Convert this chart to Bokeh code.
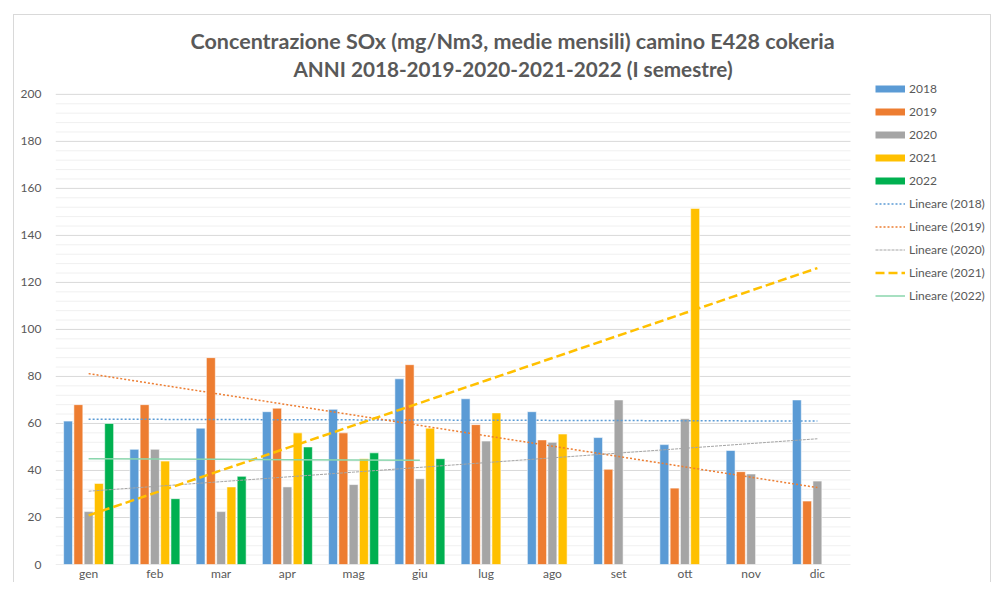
import numpy as np
from bokeh.plotting import figure
from bokeh.models import (Range1d, Legend, LegendItem, Title,
                          ColumnDataSource, FixedTicker)
from bokeh.transform import dodge
from bokeh.embed import file_html
from bokeh.resources import INLINE

months = ["gen", "feb", "mar", "apr", "mag", "giu", "lug", "ago", "set", "ott", "nov", "dic"]
years = ["2018", "2019", "2020", "2021", "2022"]
v2018 = [61, 49, 58, 65, 66, 79, 70.5, 65, 54, 51, 48.5, 70]
v2019 = [68, 68, 88, 66.5, 56, 85, 59.5, 53, 40.5, 32.5, 39.5, 27]
v2020 = [22.5, 49, 22.5, 33, 34, 36.5, 52.5, 52, 70, 62, 38.5, 35.5]
v2021 = [34.5, 44, 33, 56, 45, 58, 64.5, 55.5, None, 151.5, None, None]
v2022 = [60, 28, 37.5, 50, 47.5, 45, None, None, None, None, None, None]
series = [v2018, v2019, v2020, v2021, v2022]
y_ticks = list(range(0, 201, 20))
y_minor = list(range(0, 201, 4))

title1 = "Concentrazione SOx (mg/Nm3, medie mensili) camino E428 cokeria"
title2 = "ANNI 2018-2019-2020-2021-2022 (I semestre)"

colors = ["#5B9BD5", "#ED7D31", "#A5A5A5", "#FFC000", "#00B050"]
trend_styles = [
    dict(line_color="#5B9BD5", line_width=1.5, line_dash="2 2"),
    dict(line_color="#ED7D31", line_width=1.5, line_dash="2 2"),
    dict(line_color="#A5A5A5", line_width=1.0, line_dash="3 1"),
    dict(line_color="#FFC000", line_width=2.5, line_dash="9 4"),
    dict(line_color="#8AD6AD", line_width=1.5),
]
trend_end = [12, 12, 12, 12, 6]
FONT = "Lato"
TXT = "#595959"

n_cat = len(months)
x_pos = np.arange(1, n_cat + 1)

p = figure(x_range=Range1d(0.5, 14.613), y_range=Range1d(0, 205.9),
           width=978, height=568, output_backend="svg", toolbar_location=None,
           min_border_left=41, min_border_right=2, min_border_top=65,
           min_border_bottom=16)
p.styles = {"margin-left": "13px", "margin-top": "14px",
            "border-left": "1px solid #d9d9d9", "border-top": "1px solid #d9d9d9",
            "border-right": "1px solid #d9d9d9"}

p.title.text = title1
p.title.align = "left"
p.title.offset = 135
p.title.standoff = 1
p.title.text_font = FONT
p.title.text_font_size = "21.5px"
p.title.text_font_style = "bold"
p.title.text_color = TXT
p.add_layout(Title(text=title2, align="left", offset=238, standoff=0, text_font=FONT,
                   text_font_size="20.7px", text_font_style="bold", text_color=TXT),
             "above")

# grid lines limited to the category area
minor_only = [v for v in y_minor if v not in y_ticks]
p.segment(x0=[0.5] * len(minor_only), x1=[n_cat + 0.5] * len(minor_only),
          y0=minor_only, y1=minor_only, line_color="#f0f0f0", line_width=1)
p.segment(x0=[0.5] * len(y_ticks), x1=[n_cat + 0.5] * len(y_ticks),
          y0=y_ticks, y1=y_ticks, line_color="#d9d9d9", line_width=1)

for i, (vals, c) in enumerate(zip(series, colors)):
    xs = [x for x, v in zip(x_pos, vals) if v is not None]
    ys = [v for v in vals if v is not None]
    src = ColumnDataSource(dict(x=xs, v=ys))
    p.vbar(x=dodge("x", (i - 2) * 0.155), top="v", width=0.135,
           source=src, fill_color=c, line_color="white", line_width=0.8, line_alpha=0.7)

trend_r = []
for i, vals in enumerate(series):
    mask = np.array([v is not None for v in vals])
    yv = np.array([v if v is not None else np.nan for v in vals], dtype=float)
    k, b = np.polyfit(x_pos[mask], yv[mask], 1)
    n = trend_end[i]
    trend_r.append(p.line(x=list(x_pos[:n]), y=list(k * x_pos[:n] + b), **trend_styles[i]))

items = []
for y, c in zip(years, colors):
    r = p.line(x=[-5, -4], y=[-5, -5], line_color=c, line_width=7)
    items.append(LegendItem(label=y, renderers=[r]))
for y, r in zip(years, trend_r):
    items.append(LegendItem(label="Lineare (%s)" % y, renderers=[r]))

legend = Legend(items=items, location=(820, 257), glyph_width=30, glyph_height=23,
                label_height=23, spacing=0, label_standoff=4, padding=0, margin=0,
                border_line_alpha=0, background_fill_alpha=0,
                label_text_font=FONT, label_text_font_size="12px", label_text_color=TXT)
p.add_layout(legend)

p.xgrid.visible = False
p.ygrid.visible = False
p.outline_line_color = None
p.xaxis.ticker = FixedTicker(ticks=list(x_pos))
p.xaxis.major_label_overrides = {int(x): m for x, m in zip(x_pos, months)}
p.yaxis.ticker = FixedTicker(ticks=y_ticks)
for ax in (p.xaxis, p.yaxis):
    ax.axis_line_color = None
    ax.major_tick_line_color = None
    ax.minor_tick_line_color = None
    ax.major_tick_out = 0
    ax.major_tick_in = 0
    ax.minor_tick_out = 0
    ax.major_label_text_font = FONT
    ax.major_label_text_font_size = "12px"
    ax.major_label_text_color = TXT
p.xaxis.major_label_standoff = 1
p.yaxis.major_label_standoff = 14

open("out.html", "w").write(file_html(p, INLINE))
